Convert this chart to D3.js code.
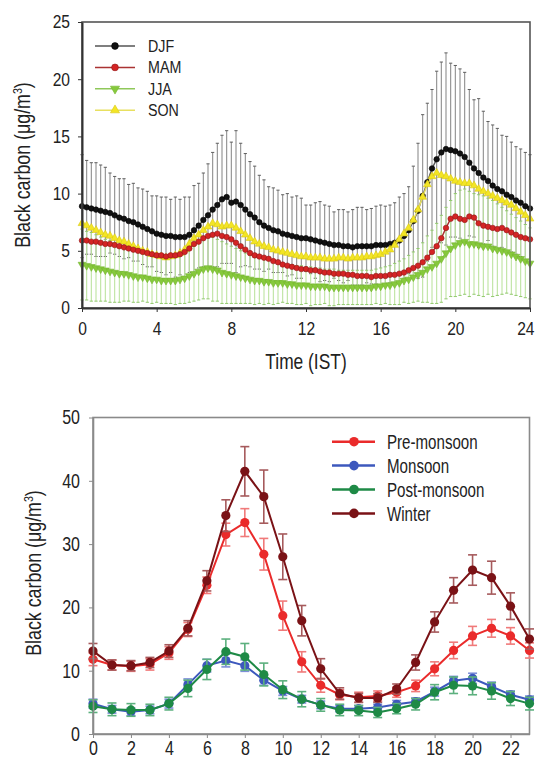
<!DOCTYPE html>
<html>
<head>
<meta charset="utf-8">
<script src="https://cdn.jsdelivr.net/npm/d3@7"></script>
<style>
body { margin: 0; background: #fff; }
svg text { font-family: 'Liberation Sans', Arial, sans-serif; fill: #222; }
</style>
</head>
<body>
<script>
// ---- top panel: 15-min diurnal means by season (0..24 h) ----
var topSeries = ['DJF', 'MAM', 'JJA', 'SON'];
var topXTicks = [0, 4, 8, 12, 16, 20, 24];
var topYTicks = [0, 5, 10, 15, 20, 25];

var djf = [
  8.9, 8.8, 8.7, 8.6,   8.5, 8.4, 8.3, 8.1,   7.9, 7.8, 7.6, 7.5,   7.3, 7.1, 6.9, 6.7,
  6.5, 6.4, 6.3, 6.3,   6.2, 6.2, 6.2, 6.4,   6.8, 7.2, 7.7, 8.1,   8.6, 9.0, 9.5, 9.7,
  9.2, 9.3, 9.0, 8.6,   8.2, 7.9, 7.5, 7.2,   7.0, 6.8, 6.7, 6.5,   6.4, 6.3, 6.2, 6.1,
  6.1, 6.0, 5.9, 5.8,   5.7, 5.6, 5.5, 5.5,   5.4, 5.4, 5.3, 5.4,   5.4, 5.4, 5.4, 5.5,
  5.5, 5.5, 5.6, 5.7,   5.9, 6.3, 6.8, 7.6,   8.5, 9.8, 11.0, 12.2, 13.0, 13.6, 13.9, 13.8,
  13.7, 13.5, 13.2, 12.7, 12.2, 11.8, 11.4, 11.1, 10.7, 10.4, 10.2, 9.9, 9.7, 9.4, 9.2, 8.9,
  8.7
];
// top of the grey error bars (mean + sd)
var djfHi = [
  13.4, 12.9, 12.7, 12.7, 12.5, 12.3, 11.8, 11.5, 11.3, 11.3, 10.8, 10.9, 10.5, 10.4, 10.2, 9.8,
  9.8, 9.7, 9.7, 9.5,   9.7, 9.5, 9.7, 9.7,   10.7, 10.9, 11.8, 12.6, 13.6, 14.4, 15.1, 15.5,
  14.5, 15.5, 14.4, 13.5, 12.8, 12.4, 11.6, 11.2, 10.6, 10.5, 10.3, 9.9, 10.0, 9.7, 9.8, 9.6,
  9.0, 9.0, 9.2, 9.3,   9.0, 8.9, 8.4, 8.6,   8.6, 8.4, 8.6, 8.8,   8.8, 8.6, 8.7, 8.9,
  9.0, 8.9, 9.0, 9.2,   9.7, 10.0, 10.6, 12.4, 14.4, 16.9, 17.9, 19.1, 20.7, 21.5, 22.3, 21.4,
  21.2, 20.9, 20.6, 19.1, 18.2, 18.3, 17.2, 16.3, 16.0, 15.7, 15.1, 15.0, 14.5, 14.1, 13.9, 13.6,
  13.4
];
var mam = [
  5.9, 5.9, 5.8, 5.8,   5.7, 5.6, 5.6, 5.5,   5.4, 5.3, 5.2, 5.1,   5.0, 4.9, 4.8, 4.7,
  4.6, 4.6, 4.5, 4.6,   4.6, 4.7, 4.9, 5.2,   5.6, 5.8, 6.1, 6.3,   6.4, 6.5, 6.3, 6.2,
  6.0, 5.7, 5.4, 5.1,   4.8, 4.6, 4.5, 4.4,   4.3, 4.1, 4.0, 3.8,   3.7, 3.6, 3.5, 3.4,
  3.4, 3.3, 3.3, 3.2,   3.1, 3.1, 3.0, 3.0,   3.0, 2.9, 2.9, 2.8,   2.8, 2.8, 2.7, 2.8,
  2.8, 2.8, 2.9, 2.9,   3.0, 3.1, 3.3, 3.5,   3.7, 4.0, 4.4, 4.9,   5.4, 6.1, 7.0, 7.8,
  8.0, 7.8, 7.7, 8.0,   7.9, 7.4, 7.2, 7.1,   7.0, 6.9, 7.0, 6.8,   6.6, 6.4, 6.2, 6.1,
  6.0
];
var jja = [
  3.8, 3.7, 3.6, 3.5,   3.4, 3.3, 3.2, 3.1,   3.0, 3.0, 2.9, 2.8,   2.7, 2.7, 2.6, 2.5,
  2.5, 2.4, 2.4, 2.4,   2.4, 2.5, 2.6, 2.8,   3.0, 3.2, 3.4, 3.5,   3.4, 3.3, 3.1, 3.0,
  2.9, 2.8, 2.7, 2.6,   2.5, 2.4, 2.4, 2.3,   2.3, 2.2, 2.2, 2.2,   2.1, 2.1, 2.0, 2.0,
  2.0, 1.9, 1.9, 1.9,   1.9, 1.8, 1.8, 1.8,   1.8, 1.8, 1.8, 1.8,   1.8, 1.8, 1.8, 1.9,
  1.9, 2.0, 2.0, 2.1,   2.2, 2.4, 2.5, 2.7,   2.9, 3.1, 3.4, 3.6,   3.9, 4.3, 4.8, 5.2,
  5.5, 5.7, 5.8, 5.6,   5.6, 5.5, 5.4, 5.4,   5.2, 5.1, 5.0, 4.9,   4.7, 4.5, 4.3, 4.1,
  3.9
];
// top of the green error bars (mean + sd)
var jjaHi = [
  6.9, 6.7, 6.6, 6.4,   6.2, 6.0, 5.9, 5.7,   5.5, 5.4, 5.2, 5.1,   4.9, 4.8, 4.7, 4.6,
  4.5, 4.4, 4.4, 4.4,   4.5, 4.6, 4.8, 5.1,   5.4, 5.7, 6.0, 6.2,   6.2, 6.0, 5.8, 5.6,
  5.4, 5.2, 5.0, 4.8,   4.6, 4.5, 4.4, 4.3,   4.2, 4.1, 4.0, 3.9,   3.8, 3.8, 3.7, 3.7,
  3.6, 3.6, 3.5, 3.5,   3.4, 3.4, 3.4, 3.3,   3.3, 3.3, 3.3, 3.3,   3.3, 3.3, 3.3, 3.4,
  3.5, 3.6, 3.7, 3.9,   4.1, 4.3, 4.6, 4.9,   5.2, 5.7, 6.3, 6.8,   7.4, 8.1, 8.8, 9.4,
  10.0, 10.3, 10.4, 10.2, 10.0, 9.9, 9.8, 9.6, 9.4, 9.1, 8.8, 8.5,   8.2, 7.9, 7.6, 7.3,
  7.0
];
var son = [
  7.4, 7.2, 7.0, 6.8,   6.6, 6.4, 6.3, 6.1,   5.9, 5.8, 5.6, 5.4,   5.2, 5.0, 4.9, 4.7,
  4.6, 4.5, 4.4, 4.5,   4.6, 4.8, 5.1, 5.6,   6.1, 6.4, 6.8, 7.1,   7.4, 7.3, 7.1, 7.2,
  7.2, 7.0, 6.7, 6.4,   6.1, 5.8, 5.6, 5.4,   5.3, 5.1, 5.0, 4.9,   4.8, 4.7, 4.6, 4.5,
  4.5, 4.4, 4.4, 4.4,   4.3, 4.3, 4.3, 4.4,   4.4, 4.3, 4.4, 4.4,   4.4, 4.5, 4.5, 4.6,
  4.7, 4.9, 5.1, 5.5,   6.0, 6.5, 7.0, 7.7,   8.6, 9.7, 10.8, 11.5, 11.8, 11.6, 11.5, 11.3,
  11.1, 11.0, 10.9, 10.9, 10.7, 10.4, 10.2, 10.0, 9.8, 9.6, 9.4, 9.2,  9.0, 8.7, 8.4, 8.1,
  7.8
];
var quarterHours = d3.range(0, 24.001, 0.25);

// ---- bottom panel: hourly means by season ----
var hours = d3.range(0, 24);
var bottomSeries = ['Pre-monsoon', 'Monsoon', 'Post-monsoon', 'Winter'];
var bottomXTicks = [0, 2, 4, 6, 8, 10, 12, 14, 16, 18, 20, 22];
var bottomYTicks = [0, 10, 20, 30, 40, 50];

var preMonsoon = [11.8, 10.9, 10.7, 11.0, 12.8, 16.5, 23.5, 31.5, 33.4, 28.4, 18.7, 11.4,
                  7.7, 6.2, 5.8, 6.0, 6.6, 7.6, 10.3, 13.2, 15.5, 16.7, 15.5, 13.2];
var preErr     = [1.0, 0.8, 0.8, 0.9, 1.0, 1.1, 1.3, 1.8, 2.2, 2.5, 2.3, 1.6,
                  1.1, 0.8, 0.8, 0.8, 0.8, 0.9, 1.1, 1.3, 1.5, 1.4, 1.3, 1.2];
var monsoon    = [4.8, 3.9, 3.5, 3.8, 4.8, 7.8, 10.8, 11.6, 10.8, 8.5, 6.8, 5.5,
                  4.6, 4.0, 4.0, 4.2, 4.7, 5.1, 6.7, 8.4, 8.8, 7.5, 6.2, 5.4];
var monErr     = [0.7, 0.6, 0.6, 0.6, 0.7, 0.9, 1.0, 1.0, 0.9, 0.8, 0.7, 0.6,
                  0.6, 0.5, 0.5, 0.5, 0.6, 0.6, 0.7, 0.7, 0.8, 0.7, 0.6, 0.6];
var postMonsoon = [4.4, 3.9, 3.8, 3.8, 4.8, 7.2, 10.2, 13.0, 12.2, 9.4, 7.0, 5.5,
                   4.6, 3.8, 3.7, 3.4, 4.0, 4.7, 6.6, 7.7, 7.6, 6.8, 5.6, 4.8];
var postErr     = [1.0, 1.0, 1.0, 0.9, 1.0, 1.3, 1.6, 2.0, 2.1, 1.8, 1.4, 1.2,
                   1.0, 0.9, 0.8, 0.8, 0.8, 0.9, 1.2, 1.3, 1.4, 1.3, 1.1, 1.0];
var winter     = [13.1, 10.9, 10.8, 11.3, 13.1, 16.7, 24.2, 34.5, 41.5, 37.5, 28.0, 17.9,
                  10.3, 6.4, 5.7, 5.7, 7.1, 11.3, 17.7, 22.7, 25.9, 24.7, 20.2, 15.0];
var winErr     = [1.2, 0.8, 0.8, 0.8, 1.0, 1.2, 1.6, 2.5, 3.9, 4.2, 3.6, 2.4,
                  1.6, 0.9, 0.7, 0.7, 0.8, 1.2, 1.6, 2.0, 2.4, 2.6, 2.1, 1.6];

var svg = d3.select('body').append('svg')
  .attr('width', 537)
  .attr('height', 760);

// squeeze text horizontally (the original uses a condensed face)
var condense = function(sel, k) {
  sel.each(function() {
    var t = d3.select(this);
    var x = +t.attr('x') || 0;
    t.attr('x', x / k).attr('transform', 'scale(' + k + ',1)');
  });
};

// ================= TOP PANEL =================
var xT = d3.scaleLinear().domain([0, 24]).range([82, 530]);
var yT = d3.scaleLinear().domain([0, 25]).range([308, 22]);
var topG = svg.append('g');

function errorBars(g, mean, hi, color, capColor) {
  var rows = quarterHours.map(function(h, i) {
    var sd = hi[i] - mean[i];
    return {h: h, lo: Math.max(0, mean[i] - sd), hi: hi[i]};
  });
  g.selectAll('line.bar').data(rows).enter().append('line')
    .attr('x1', function(d) { return xT(d.h); })
    .attr('x2', function(d) { return xT(d.h); })
    .attr('y1', function(d) { return yT(d.lo); })
    .attr('y2', function(d) { return yT(d.hi); })
    .attr('stroke', color).attr('stroke-width', 1.1);
  ['hi', 'lo'].forEach(function(k) {
    g.selectAll('line.cap' + k).data(rows).enter().append('line')
      .attr('x1', function(d) { return xT(d.h) - 1.6; })
      .attr('x2', function(d) { return xT(d.h) + 1.6; })
      .attr('y1', function(d) { return yT(d[k]); })
      .attr('y2', function(d) { return yT(d[k]); })
      .attr('stroke', capColor).attr('stroke-width', 1);
  });
}
errorBars(topG.append('g'), djf, djfHi, '#8e8e8e', '#5e5e5e');
errorBars(topG.append('g'), jja, jjaHi, '#bde3a0', '#92c96e');

var topStyle = {
  DJF: {data: djf, line: '#555', fill: '#111', stroke: '#000', shape: d3.symbolCircle, size: 24},
  MAM: {data: mam, line: '#a33', fill: '#d42424', stroke: '#8e1a1a', shape: d3.symbolCircle, size: 24},
  JJA: {data: jja, line: '#8fc85a', fill: '#86c93c', stroke: '#74b52e', shape: d3.symbolTriangle, size: 26, rot: 180},
  SON: {data: son, line: '#e8e060', fill: '#f3e524', stroke: '#d8c812', shape: d3.symbolTriangle, size: 26, rot: 0}
};

['JJA', 'DJF', 'SON', 'MAM'].forEach(function(name) {
  var s = topStyle[name];
  var pts = quarterHours.map(function(h, i) { return [h, s.data[i]]; });
  topG.append('path').datum(pts)
    .attr('fill', 'none').attr('stroke', s.line).attr('stroke-width', 1.5)
    .attr('d', d3.line().x(function(d) { return xT(d[0]); }).y(function(d) { return yT(d[1]); }));
  topG.append('g').selectAll('path').data(pts).enter().append('path')
    .attr('d', d3.symbol().type(s.shape).size(s.size))
    .attr('transform', function(d) {
      return 'translate(' + xT(d[0]) + ',' + yT(d[1]) + ') rotate(' + (s.rot || 0) + ')';
    })
    .attr('fill', s.fill).attr('stroke', s.stroke).attr('stroke-width', 0.6);
});

// frame + axes
topG.append('rect').attr('x', 82).attr('y', 22).attr('width', 448).attr('height', 286)
  .attr('fill', 'none').attr('stroke', '#555').attr('stroke-width', 1.6);

var topYAxis = topG.append('g').attr('transform', 'translate(82,0)')
  .call(d3.axisLeft(yT).tickValues(topYTicks).tickSize(4).tickPadding(8).tickSizeOuter(0));
var topXAxis = topG.append('g').attr('transform', 'translate(0,308)')
  .call(d3.axisBottom(xT).tickValues(topXTicks).tickSize(4).tickPadding(10).tickSizeOuter(0));
[topYAxis, topXAxis].forEach(function(a) {
  a.attr('font-family', null);
  a.select('.domain').attr('stroke', '#333').attr('stroke-width', 2);
  a.selectAll('.tick line').attr('stroke', '#333');
  a.selectAll('.tick text').attr('font-size', 18.6).attr('fill', '#333')
    .call(condense, 0.84);
});
// the last label sits against the page edge: right-align it just inside
topXAxis.selectAll('.tick text').filter(function(d) { return d === 24; })
  .attr('text-anchor', 'end').attr('x', 4 / 0.84);

topG.append('text').attr('x', 306).attr('y', 369).attr('text-anchor', 'middle')
  .attr('font-size', 22).text('Time (IST)').call(condense, 0.79);

function yTitle(g, cx, cy, size, k) {
  var t = g.append('text')
    .attr('transform', 'translate(' + cx + ',' + cy + ') rotate(-90) scale(' + k + ',1)')
    .attr('text-anchor', 'middle').attr('font-size', size);
  t.append('tspan').text('Black carbon (\u03bcg/m');
  t.append('tspan').attr('baseline-shift', 'super').attr('font-size', size * 0.6).text('3');
  t.append('tspan').text(')');
}
yTitle(topG, 30, 165, 22, 0.81);

// legend
var topLegend = topG.append('g').selectAll('g').data(topSeries).enter().append('g')
  .attr('transform', function(d, i) { return 'translate(0,' + (46 + i * 21.4) + ')'; });
topLegend.append('line').attr('x1', 95).attr('x2', 135)
  .attr('stroke', function(d) { return topStyle[d].line; }).attr('stroke-width', 1.5);
topLegend.append('path')
  .attr('d', function(d) { return d3.symbol().type(topStyle[d].shape).size(36)(); })
  .attr('transform', function(d) { return 'translate(115,0) rotate(' + (topStyle[d].rot || 0) + ')'; })
  .attr('fill', function(d) { return topStyle[d].fill; })
  .attr('stroke', function(d) { return topStyle[d].stroke; }).attr('stroke-width', 0.6);
topLegend.append('text').attr('x', 148).attr('y', 6).attr('font-size', 17)
  .text(function(d) { return d; })
  .call(condense, 0.84);

// ================= BOTTOM PANEL =================
var xB = d3.scaleLinear().domain([0, 23]).range([93, 529.5]);
var yB = d3.scaleLinear().domain([0, 50]).range([734, 417.5]);
var botG = svg.append('g');

botG.append('rect').attr('x', 93).attr('y', 417.5).attr('width', 436.5).attr('height', 316.5)
  .attr('fill', 'none').attr('stroke', '#8a8a8a').attr('stroke-width', 1.6);

var bottomStyle = {
  'Pre-monsoon': {data: preMonsoon, err: preErr, color: '#ea2b2b', errColor: '#f07a7a'},
  'Monsoon': {data: monsoon, err: monErr, color: '#3d58bd', errColor: '#7d8fd8'},
  'Post-monsoon': {data: postMonsoon, err: postErr, color: '#1e8a46', errColor: '#5cb07e'},
  'Winter': {data: winter, err: winErr, color: '#7a1216', errColor: '#a65a5c'}
};

bottomSeries.forEach(function(name) {
  var s = bottomStyle[name];
  var pts = hours.map(function(h, i) { return {h: h, v: s.data[i], e: s.err[i]}; });
  var g = botG.append('g');
  var eb = g.selectAll('g.eb').data(pts).enter().append('g')
    .attr('stroke', s.errColor).attr('stroke-width', 1.6);
  eb.append('line')
    .attr('x1', function(d) { return xB(d.h); }).attr('x2', function(d) { return xB(d.h); })
    .attr('y1', function(d) { return yB(d.v - d.e); }).attr('y2', function(d) { return yB(d.v + d.e); });
  eb.append('line')
    .attr('x1', function(d) { return xB(d.h) - 4.5; }).attr('x2', function(d) { return xB(d.h) + 4.5; })
    .attr('y1', function(d) { return yB(d.v + d.e); }).attr('y2', function(d) { return yB(d.v + d.e); });
  eb.append('line')
    .attr('x1', function(d) { return xB(d.h) - 4.5; }).attr('x2', function(d) { return xB(d.h) + 4.5; })
    .attr('y1', function(d) { return yB(d.v - d.e); }).attr('y2', function(d) { return yB(d.v - d.e); });
  g.append('path').datum(pts)
    .attr('fill', 'none').attr('stroke', s.color).attr('stroke-width', 2)
    .attr('d', d3.line().x(function(d) { return xB(d.h); }).y(function(d) { return yB(d.v); }));
  g.selectAll('circle').data(pts).enter().append('circle')
    .attr('cx', function(d) { return xB(d.h); })
    .attr('cy', function(d) { return yB(d.v); })
    .attr('r', 4.6).attr('fill', s.color);
});

var botYAxis = botG.append('g').attr('transform', 'translate(93,0)')
  .call(d3.axisLeft(yB).tickValues(bottomYTicks).tickSize(4).tickPadding(9).tickSizeOuter(0));
var botXAxis = botG.append('g').attr('transform', 'translate(0,734)')
  .call(d3.axisBottom(xB).tickValues(bottomXTicks).tickSize(4).tickPadding(3).tickSizeOuter(0));
[botYAxis, botXAxis].forEach(function(a) {
  a.attr('font-family', null);
  a.select('.domain').attr('stroke', '#8a8a8a').attr('stroke-width', 1.6);
  a.selectAll('.tick line').attr('stroke', '#8a8a8a');
  a.selectAll('.tick text').attr('font-size', 20).attr('fill', '#333')
    .call(condense, 0.8);
});

yTitle(botG, 41, 573, 22, 0.81);

var botLegend = botG.append('g').selectAll('g').data(bottomSeries).enter().append('g')
  .attr('transform', function(d, i) { return 'translate(0,' + (441.7 + i * 23.9) + ')'; });
botLegend.append('line').attr('x1', 332).attr('x2', 375)
  .attr('stroke', function(d) { return bottomStyle[d].color; }).attr('stroke-width', 2.5);
botLegend.append('circle').attr('cx', 354).attr('cy', 0).attr('r', 4.8)
  .attr('fill', function(d) { return bottomStyle[d].color; });
botLegend.append('text').attr('x', 387).attr('y', 7.5).attr('font-size', 21)
  .text(function(d) { return d; })
  .call(condense, 0.72);
</script>
</body>
</html>
